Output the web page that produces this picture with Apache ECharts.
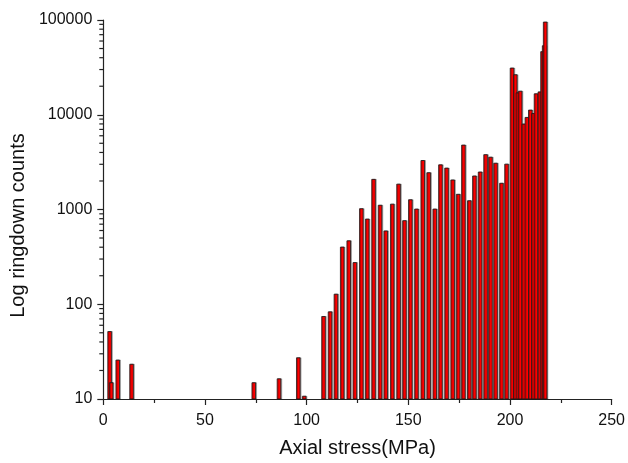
<!DOCTYPE html>
<html>
<head>
<meta charset="utf-8">
<script src="https://cdn.jsdelivr.net/npm/echarts@6/dist/echarts.min.js"></script>
<style>
  html, body { margin: 0; padding: 0; background: #fff; }
  #chart { width: 628px; height: 463px; }
</style>
</head>
<body>
<div id="chart"></div>
<script>
// Axial stress (MPa) of each bar
var stress = [
  3.1, 3.9, 7.1, 13.9, 74.0, 86.4, 95.9, 98.8,
  108.3, 111.5, 114.4, 117.5, 120.7, 123.7, 126.9, 129.8, 132.9, 136.1, 138.9, 142.1, 145.2,
  148.1, 151.0, 154.0, 157.1, 160.0, 163.0, 165.8, 168.8, 171.8, 174.5, 177.1, 180.0, 182.5,
  185.3, 188.0, 190.4, 192.9, 195.8, 198.3,
  201.0, 202.6, 203.9, 205.0, 206.8, 208.3, 210.0, 211.5, 212.8, 214.7, 216.0, 216.8, 217.3
];
// Ringdown counts of each bar
var counts = [
  52, 15, 26, 23.5, 15, 16.5, 27.5, 10.8,
  75, 84, 129, 405, 472, 278, 1030, 800, 2100, 1120, 600, 1150, 1870,
  770, 1280, 1020, 3320, 2470, 1020, 2990, 2760, 2070, 1460, 4830, 1250, 2280,
  2510, 3830, 3600, 3110, 1910, 3040,
  31400, 26700, 17200, 17900, 8060, 9460, 11300, 10400, 16800, 17600, 46800, 54000, 96000
];
var xTickLabels = ['0', '50', '100', '150', '200', '250'];
var yTickLabels = ['10', '100', '1000', '10000', '100000'];
var yMinorTicks = [20, 30, 40, 50, 60, 70, 80, 90,
  200, 300, 400, 500, 600, 700, 800, 900,
  2000, 3000, 4000, 5000, 6000, 7000, 8000, 9000,
  20000, 30000, 40000, 50000, 60000, 70000, 80000, 90000];

var barData = stress.map(function (s, i) { return [s, counts[i]]; });
var minorData = yMinorTicks.map(function (v) { return [0, v]; });

var font = 'Liberation Sans, Arial, sans-serif';
var chart = echarts.init(document.getElementById('chart'), null, { renderer: 'canvas' });
chart.setOption({
  animation: false,
  backgroundColor: '#ffffff',
  grid: { left: 97, right: 14, top: 20, bottom: 59, containLabel: false },
  xAxis: {
    type: 'value',
    min: 0, max: 250, interval: 50,
    name: 'Axial stress(MPa)',
    nameLocation: 'middle',
    nameGap: 39,
    nameTextStyle: { fontFamily: font, fontSize: 20, color: '#111' },
    axisLine: { show: true, lineStyle: { color: '#222', width: 1.2 } },
    axisTick: { show: true, inside: false, length: 6, lineStyle: { color: '#222', width: 1.2 } },
    minorTick: { show: true, splitNumber: 2, length: 4, lineStyle: { color: '#222', width: 1.2 } },
    splitLine: { show: false },
    axisLabel: {
      fontFamily: font, fontSize: 16, color: '#111', margin: 14,
      formatter: function (v) { return xTickLabels[Math.round(v / 50)]; }
    }
  },
  yAxis: {
    type: 'log',
    logBase: 10,
    min: 10, max: 100000,
    name: 'Log ringdown counts',
    nameLocation: 'middle',
    nameGap: 62,
    nameTextStyle: { fontFamily: font, fontSize: 20, color: '#111', padding: [0, 32, 0, 0] },
    axisLine: { show: true, lineStyle: { color: '#222', width: 1.2 } },
    axisTick: { show: true, inside: false, length: 6, lineStyle: { color: '#222', width: 1.2 } },
    splitLine: { show: false },
    axisLabel: {
      fontFamily: font, fontSize: 16, color: '#111', margin: 11,
      formatter: function (v) {
        var k = Math.round(Math.log(v) / Math.LN10) - 1;
        return yTickLabels[k] !== undefined ? yTickLabels[k] : '';
      }
    }
  },
  series: [
    {
      type: 'bar',
      data: barData,
      barWidth: 4.4,
      clip: true,
      itemStyle: {
        color: '#ff0000',
        borderColor: '#1a1a1a',
        borderWidth: 0.8,
        shadowColor: 'rgba(0,0,0,0.3)',
        shadowOffsetX: 1,
        shadowBlur: 0
      },
      emphasis: { disabled: true }
    },
    {
      type: 'custom',
      silent: true,
      clip: false,
      data: minorData,
      renderItem: function (params, api) {
        var p = api.coord([api.value(0), api.value(1)]);
        return {
          type: 'line',
          shape: { x1: p[0] - 4, y1: p[1], x2: p[0], y2: p[1] },
          style: { stroke: '#222', lineWidth: 1.2 }
        };
      },
      z: 5
    }
  ]
});
</script>
</body>
</html>
